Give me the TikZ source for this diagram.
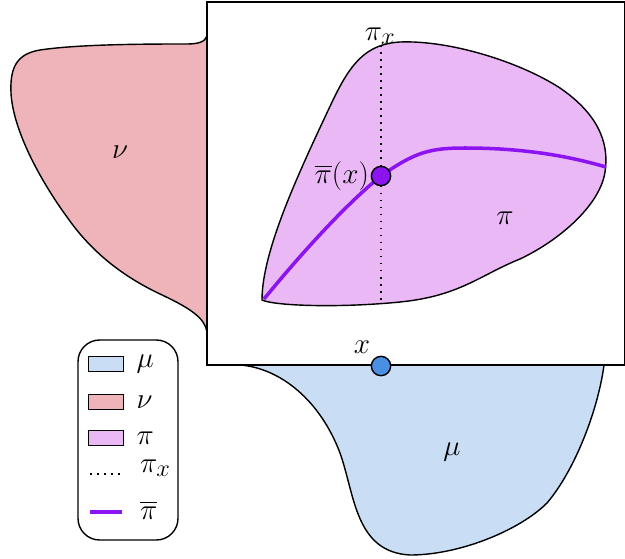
\documentclass[tikz,border=0pt]{standalone}
\usepackage{amsmath,amssymb}
\usetikzlibrary{arrows.meta,positioning,calc}
\definecolor{nucol}{RGB}{239,179,186}
\definecolor{mucol}{RGB}{201,221,245}
\definecolor{picol}{RGB}{234,184,245}
\definecolor{pbarcol}{RGB}{139,20,240}
\definecolor{xcol}{RGB}{74,144,226}

\begin{document}
\begin{tikzpicture}[x=0.03cm, y=-0.03cm,
  every node/.style={font=\Huge},
  dens/.style={draw, line width=1.2pt},
  pibar/.style={draw=pbarcol, line width=3pt},
  fiber/.style={line width=1.3pt, dash pattern=on 1.3pt off 4.7pt},
  dot/.style={circle, draw, line width=1.2pt, minimum size=0.58cm, inner sep=0pt},
  swatch/.style={draw, line width=1.1pt, minimum width=1.05cm, minimum height=0.45cm, inner sep=0pt}]
\useasboundingbox (0,0) rectangle (625,558);

% marginal nu
\draw[dens, fill=nucol] (207,36) .. controls (205,42) and (198,44) .. (187,44)
  .. controls (150,44) and (80,44) .. (40,50) .. controls (15,54) and (10,70) .. (11,93)
  .. controls (13,130) and (40,180) .. (67,217) .. controls (90,250) and (120,275) .. (160,294)
  .. controls (190,308) and (205,318) .. (207,332) -- cycle;
% marginal mu
\draw[dens, fill=mucol] (240,365) .. controls (280,368) and (320,400) .. (340,453)
  .. controls (355,495) and (355,552) .. (410,555) .. controls (460,555) and (520,530) .. (547,503)
  .. controls (575,470) and (598,410) .. (604,365) -- cycle;

% coupling pi
\draw[dens, fill=picol] (262,300) .. controls (262,250) and (300,170) .. (333,100)
  .. controls (350,65) and (365,44) .. (400,42) .. controls (450,40) and (520,62) .. (560,88)
  .. controls (595,112) and (610,140) .. (605,172) .. controls (600,205) and (560,240) .. (520,259)
  .. controls (480,275) and (460,296) .. (400,302) .. controls (340,308) and (275,306) .. (262,300) -- cycle;

\coordinate (pxtop) at (381,45);
\coordinate (pxbot) at (381,302);
\draw[fiber] (pxtop) -- (pxbot);
\node (pxlab) at (380,36) {$\pi_x$};

\draw[pibar] (264,299) .. controls (300,255) and (345,205) .. (381,176)
  .. controls (415,152) and (430,148) .. (465,148) .. controls (530,148) and (575,158) .. (606,167);
\node[dot, fill=pbarcol] (pbx) at (381,176) {};
\node[left=-2pt of pbx] (pbxlab) {$\overline{\pi}(x)$};

\node (nulab) at (120,152) {$\nu$};
\node (pilab) at (505,218) {$\pi$};
\node (mulab) at (452,452) {$\mu$};

% frame
\draw[line width=1.6pt] (207,2) rectangle (625,365);
\node[dot, fill=xcol] (xpt) at (381,366) {};
\node (xlab) at (362,347) {$x$};

% legend
\draw[line width=1.2pt, rounded corners=0.65cm] (78,340) rectangle (178,540);
\node[swatch, fill=mucol] (lmu) at (106,364) {};
\node[right=0.25cm of lmu] {$\mu$};
\node[swatch, fill=nucol] (lnu) at (106,402) {};
\node[right=0.25cm of lnu] {$\nu$};
\node[swatch, fill=picol] (lpi) at (106,438) {};
\node[right=0.25cm of lpi] {$\pi$};
\coordinate (lpxa) at (90,474);
\coordinate (lpxb) at (122,474);
\draw[fiber] (lpxa) -- (lpxb);
\node[anchor=west] at (136,468) {$\pi_x$};
\coordinate (lpba) at (90,512);
\coordinate (lpbb) at (122,512);
\draw[pibar] (lpba) -- (lpbb);
\node[anchor=west] at (136,510) {$\overline{\pi}$};
\end{tikzpicture}
\end{document}
